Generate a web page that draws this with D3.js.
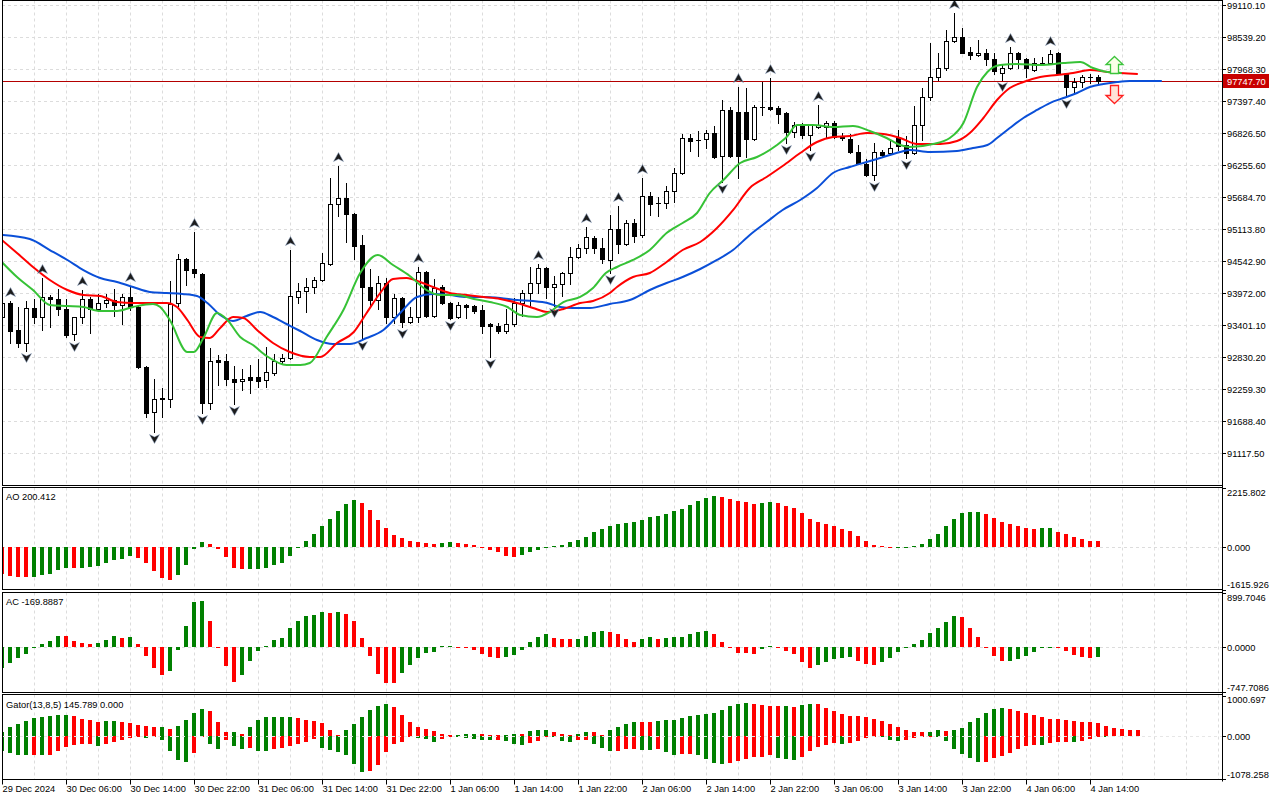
<!DOCTYPE html>
<html>
<head>
<meta charset="utf-8">
<script src="https://cdn.jsdelivr.net/npm/d3@7"></script>
<style>
body { margin: 0; background: #fff; }
svg { display: block; }
text { font-family: "Liberation Sans", Arial, sans-serif; font-size: 9.3px; fill: #000; }
</style>
</head>
<body>
<div id="container"></div>
<script>
// hourly candles, bar 0 = 29 Dec 22:00
const open = [93544,93794,93312,93080,93704,93544,93901,93865,93687,93241,93544,93865,93687,93794,93847,93758,93901,93722,92652,91849,
  92081,92081,93794,94578,94400,94311,92010,92776,92759,92438,92402,92473,92473,92420,92545,92759,92812,93901,94008,94079,
  94204,94489,95560,95667,95381,94828,94079,93847,94150,93544,93883,93455,93544,94347,93562,94079,93794,93544,93758,93740,
  93669,93419,93383,93294,93419,93794,93972,94150,94418,94079,94132,94329,94614,94775,94953,94775,94561,95114,94846,95221,
  95007,95702,95577,95577,95792,96113,96737,96701,96719,96826,96416,97237,97201,97201,96719,97290,97290,97272,97183,96844,
  96969,96791,96933,96933,97005,96773,96719,96487,96273,96077,96487,96469,96737,96612,96469,96969,97468,97825,97986,98468,
  98539,98271,98218,98253,98146,97897,97986,98253,98146,97950,98075,98075,98253,97879,97647,97736,97825,97825];
const high = [93800,93829,93722,93829,93865,94240,93936,94043,93865,93544,94025,93901,93954,93954,94043,93954,94097,93740,92669,92438,
  92277,94186,94668,94596,95060,94329,92991,92866,92883,92669,92616,92687,92794,93008,92883,92883,94739,94150,94240,94257,
  94686,96024,96237,95934,95399,95007,94400,94275,94240,93954,93901,93722,94436,94364,94222,94115,93811,93811,93776,93758,
  93758,93437,93437,93687,93883,94025,94436,94489,94436,94275,94347,94793,94846,95149,94989,94953,95363,95524,95274,95292,
  96024,95774,95685,95881,96202,96808,96808,96862,96880,96951,97415,97290,97647,97629,97326,97736,97807,97308,97201,97022,
  97005,96987,97326,97040,97040,96826,96808,96612,96362,96648,96523,96719,96880,96773,97308,97629,98432,98253,98664,98967,
  98700,98361,98485,98325,98253,98057,98361,98271,98164,98164,98182,98307,98271,97897,97807,97861,97879,97861];
const low = [93455,93080,93008,92937,93437,93312,93366,93580,93187,93133,93437,93259,93651,93722,93562,93419,93669,92634,91760,91492,
  91760,91938,93740,94115,94257,91831,91903,92331,92331,91992,92241,92188,92295,92295,92509,92723,92794,93794,93633,93972,
  94186,94471,95346,94882,94578,93151,93740,93687,93437,93437,93366,93437,93455,93544,93544,93776,93508,93526,93526,93615,
  93259,92830,93259,93259,93383,93562,93722,93972,93883,93740,93918,94132,94596,94686,94686,94507,94329,94686,94828,94882,
  94971,95363,95346,95488,95595,96095,96505,96416,96559,96380,95952,96398,96024,96398,96701,97147,97237,97005,96648,96755,
  96737,96523,96915,96755,96737,96701,96469,96273,96059,95988,96398,96452,96523,96380,96452,96701,97415,97772,97950,98450,
  98250,98146,98200,98039,97879,97772,97968,97986,97825,97932,98039,98070,97879,97468,97540,97647,97718,97700];
const close = [93794,93294,93080,93704,93544,93901,93865,93687,93223,93540,93865,93687,93794,93847,93758,93901,93722,92652,91831,92081,
  92090,93776,94578,94382,94329,92010,92759,92741,92438,92384,92438,92420,92402,92562,92759,92812,93918,94008,94079,94204,
  94507,95560,95667,95381,94810,94079,93847,94150,93544,93883,93455,93544,94347,93562,94061,93794,93526,93758,93722,93651,
  93383,93383,93294,93419,93794,93972,94150,94418,94079,94132,94329,94614,94775,94971,94775,94578,95114,94846,95221,94989,
  95702,95560,95570,95792,96113,96737,96683,96695,96826,96398,97237,96416,96416,96719,97290,97285,97255,97165,96844,96969,
  96791,96969,96969,97005,96755,96737,96487,96291,96077,96487,96434,96559,96594,96469,96969,97468,97825,97986,98468,98539,
  98253,98218,98253,98146,97932,97986,98253,98146,97986,98075,98070,98236,97897,97647,97736,97825,97820,97747.7];

const upFractals = [1,5,10,16,24,36,42,52,67,73,77,80,92,96,102,119,126,131];
const downFractals = [3,9,19,25,29,45,50,56,61,69,76,90,98,101,109,113,125,133];

// Alligator readings [bar, price]
const jaw = [[0,95007],[3.5,94935],[6,94739],[8.2,94561],[10.2,94382],[12.3,94240],[14.4,94168],[16.4,94079],[18.5,93990],[20.6,93972],
  [22.6,93954],[24.4,93918],[25.7,93794],[27.3,93580],[28.9,93473],[30.6,93562],[32.3,93633],[33.9,93544],[35.6,93419],[37.3,93294],
  [39.4,93133],[41.4,93062],[43.5,93062],[45.6,93169],[47.7,93312],[49.8,93615],[51.9,93901],[53.9,93954],[56,93936],[58.1,93901],
  [60.2,93901],[62.3,93883],[64.4,93847],[66.4,93829],[68.2,93794],[69.8,93722],[71.4,93704],[73.5,93704],[76,93776],[78.5,93847],
  [81,94025],[83.1,94150],[85.1,94257],[87.3,94400],[89.4,94561],[91.4,94739],[93.5,95007],[95.6,95238],[97.6,95453],[99.8,95631],
  [101.9,95845],[103.9,96113],[106,96220],[108.1,96309],[110.2,96398],[112.3,96487],[113.5,96523],[116,96487],[119.4,96505],[121.4,96559],
  [123.2,96612],[124.4,96737],[126,96915],[127.7,97094],[129.4,97237],[131,97361],[132.7,97450],[134.4,97540],[136,97647],[137.7,97700],
  [139.4,97736],[141,97754],[145,97754]];
const teeth = [[0,94918],[1.9,94686],[3.9,94436],[6,94204],[8.2,94025],[10.2,93936],[12.3,93918],[14.4,93811],[16.4,93794],[18.5,93794],
  [20.6,93794],[21.9,93722],[23.2,93490],[24.8,93187],[26,93169],[27.3,93348],[28.9,93544],[30.2,93526],[31.9,93312],[33.9,93080],
  [36,92919],[38.5,92830],[39.8,92830],[41.9,93080],[44,93276],[45.6,93615],[47.3,93972],[48.9,94222],[50.6,94240],[52.3,94168],
  [53.9,94079],[56,93972],[58.1,93936],[60.2,93901],[62.3,93865],[64.4,93794],[66.4,93704],[68.2,93633],[70.2,93687],[72.3,93794],
  [73.9,93829],[76,93972],[76.9,94079],[78.9,94257],[81,94329],[83.1,94525],[85.1,94739],[87.3,94882],[89.4,95132],[91.4,95450],
  [93.5,95845],[95.6,96041],[97.6,96237],[99.8,96469],[101.9,96666],[103.9,96755],[106,96773],[108.1,96826],[110.2,96808],[112.3,96737],
  [114.4,96630],[117.3,96630],[119.4,96683],[121,96826],[122.7,97094],[124.4,97415],[126,97629],[127.7,97736],[129.8,97825],[131.9,97861],
  [133.9,97897],[136,97950],[138.2,97915],[142,97879]];
const lips = [[0,94525],[1.9,94257],[3.9,94025],[6,93758],[8.2,93740],[10.2,93722],[12.3,93651],[14.4,93651],[16.4,93722],[18.9,93776],
  [19.8,93722],[21,93490],[23.2,92919],[24,92919],[25.2,93169],[26.9,93615],[28.2,93490],[29.8,93187],[31.4,93044],[33.1,92848],
  [35.6,92687],[37.3,92687],[38.5,92723],[40.6,93187],[42.7,93669],[44.8,94329],[47,94650],[48.9,94471],[51,94275],[53.1,94025],
  [54.8,93936],[56.9,93936],[59,93865],[61,93811],[63.2,93722],[64.8,93580],[66.9,93544],[68.5,93633],[70.2,93811],[72.3,93901],
  [73.9,94061],[75.5,94329],[76.9,94436],[78.9,94561],[81,94739],[83.1,95042],[85.1,95221],[86.9,95399],[88.5,95756],[90.2,95988],
  [92.3,96291],[94.4,96398],[96.9,96612],[98.1,96755],[99.4,96969],[101.4,96969],[103.9,96933],[106.4,96951],[108.5,96862],[110.6,96737],
  [112.3,96612],[113.5,96577],[116.4,96630],[118.5,96737],[120.2,97005],[121.9,97647],[123.2,97915],[124.8,98039],[126.9,98057],[129.8,98039],
  [132.7,98075],[134.8,98093],[136.4,97986],[138.2,97915],[140,97897]];

const ao = [-1014,-1089,-1152,-1158,-1127,-1052,-1014,-864,-801,-805,-795,-764,-714,-601,-488,-451,-338,-413,-601,-901,
  -1164,-1265,-1052,-676,-88,188,113,-100,-376,-789,-839,-835,-830,-789,-676,-601,-338,-50,225,488,
  789,1052,1352,1615,1753,1653,1390,1014,714,451,338,225,188,150,113,150,188,150,113,75,
  -38,-138,-213,-338,-376,-326,-213,-113,-25,38,75,188,263,376,563,676,789,864,901,939,
  1014,1127,1164,1239,1352,1427,1578,1728,1840,1916,1878,1803,1728,1690,1615,1653,1690,1653,1540,1465,
  1277,1052,939,864,789,676,601,413,225,75,13,-63,-38,-13,38,113,300,488,789,1052,
  1277,1315,1320,1239,1089,939,864,789,714,676,714,720,563,488,376,300,225,200.412];
const ac = [-357,-275,-192,-126,5,49,99,185,181,99,66,49,66,115,181,148,165,49,-159,-357,
  -472,-406,-60,346,741,758,428,-5,-324,-587,-472,-242,-77,16,115,148,313,428,511,527,
  576,560,576,544,428,148,-159,-456,-598,-600,-434,-302,-187,-104,-88,10,18,-11,-22,-55,
  -121,-170,-187,-170,-137,-55,82,165,220,154,137,136,138,187,253,264,253,220,137,88,
  137,170,137,154,156,170,220,253,269,220,88,-22,-99,-104,-121,-38,11,-2,-71,-124,
  -258,-357,-307,-258,-209,-192,-176,-242,-291,-307,-258,-192,-93,-5,49,115,231,313,412,511,
  494,313,165,-5,-159,-242,-240,-209,-159,-93,-16,-5,-10,-71,-143,-176,-178,-169.8887];
const gatorUp = [99,215,280,355,429,462,487,503,505,479,421,388,330,355,357,353,322,256,231,206,
  210,157,231,380,569,677,611,330,83,90,40,215,380,454,456,458,460,429,388,355,
  305,132,10,132,280,454,652,750,780,720,520,347,223,173,124,50,2,25,50,52,
  48,10,5,25,50,45,124,149,150,99,50,8,50,99,98,5,149,223,297,347,
  345,343,371,396,398,446,495,520,545,569,644,743,792,817,792,767,743,741,745,718,
  767,792,790,693,619,545,495,493,470,421,371,297,223,149,99,97,100,149,124,150,
  198,347,446,569,668,693,668,619,569,520,470,421,419,396,371,347,345,322,248,198,
  160,152,145.789];
const gatorDown = [-371,-437,-479,-482,-478,-482,-480,-380,-272,-231,-206,-204,-256,-206,-157,-107,-58,-33,-58,-8,
  -107,-380,-602,-652,-429,-33,-206,-330,-107,-256,-330,-305,-380,-382,-330,-305,-256,-206,-157,-83,
  -305,-355,-404,-479,-701,-899,-875,-726,-413,-215,-149,-41,-50,-91,-149,-91,-25,-41,-66,-91,
  -116,-118,-114,-140,-215,-239,-190,-124,-41,-45,-140,-165,-116,-115,-215,-314,-388,-386,-338,-336,
  -363,-365,-338,-413,-487,-462,-460,-489,-586,-685,-710,-685,-635,-586,-536,-535,-487,-561,-586,-610,
  -536,-388,-289,-239,-190,-215,-190,-140,-66,-20,-41,-116,-140,-116,-66,-17,-15,-41,-140,-338,
  -462,-561,-660,-658,-561,-512,-437,-338,-264,-239,-241,-190,-165,-163,-167,-140,-91,-41,-45];

const priceTicks = [99110.10,98539.20,97968.30,97397.40,96826.50,96255.60,95684.70,95113.80,94542.90,93972.00,93401.10,92830.20,92259.30,91688.40,91117.50];
const aoTicks = [2215.802, 0, -1615.926];
const acTicks = [899.7046, 0, -747.7086];
const gatorTicks = [1000.697, 0, -1078.258];
const xTickBars = [0,8,16,24,32,40,48,56,64,72,80,88,96,104,112,120,128,136];
const xTickLabels = ["29 Dec 2024","30 Dec 06:00","30 Dec 14:00","30 Dec 22:00","31 Dec 06:00","31 Dec 14:00","31 Dec 22:00",
  "1 Jan 06:00","1 Jan 14:00","1 Jan 22:00","2 Jan 06:00","2 Jan 14:00","2 Jan 22:00","3 Jan 06:00","3 Jan 14:00",
  "3 Jan 22:00","4 Jan 06:00","4 Jan 14:00"];
const lastPrice = 97747.70;
const signalUp = [139, 97897, 98200];   // bar, base, tip
const signalDown = [139, 97683, 97361];

const width = 1280;
const height = 800;
const plotLeft = 2, plotRight = 1222;
const green = "#008000", red = "#ff0000";

const x = d3.scaleLinear().domain([0, 145]).range([1.8, 1161.8]);
const px = i => Math.round(x(i)) + 0.5;

// panels: frame top/bottom
const panels = {
  main: {top: 0.5, bottom: 485.5},
  ao: {top: 487.5, bottom: 589.5},
  ac: {top: 592.5, bottom: 692.5},
  gator: {top: 694.5, bottom: 779.5}
};
const yMain = d3.scaleLinear().domain([91117.5, 99110.1]).range([453, 5]);
const yAO = d3.scaleLinear().domain([-1615.926, 2215.802]).range([589.5, 488]);
const yAC = d3.scaleLinear().domain([-747.7086, 899.7046]).range([692, 592.5]);
const yGator = d3.scaleLinear().domain([-1078.258, 1000.697]).range([779, 695.5]);

const svg = d3.create("svg")
    .attr("width", width)
    .attr("height", height)
    .attr("viewBox", [0, 0, width, height]);

svg.append("rect").attr("width", width).attr("height", height).attr("fill", "#fff");

const defs = svg.append("defs");
Object.entries(panels).forEach(([k, p]) => {
  defs.append("clipPath").attr("id", "clip-" + k)
    .append("rect").attr("x", plotLeft + 1).attr("y", p.top + 0.5)
    .attr("width", plotRight - plotLeft - 1).attr("height", p.bottom - p.top - 1);
});

// grid
const gridColor = "#dcdcdc";
const vGrid = d3.range(0, 153, 4);
Object.entries(panels).forEach(([k, p]) => {
  svg.append("g").attr("clip-path", `url(#clip-${k})`)
    .selectAll("line").data(vGrid).join("line")
    .attr("x1", d => px(d)).attr("x2", d => px(d))
    .attr("y1", p.top).attr("y2", p.bottom)
    .attr("stroke", gridColor).attr("stroke-dasharray", "3,3");
});
svg.append("g").selectAll("line").data(priceTicks).join("line")
  .attr("x1", plotLeft).attr("x2", plotRight)
  .attr("y1", d => Math.round(yMain(d)) + 0.5).attr("y2", d => Math.round(yMain(d)) + 0.5)
  .attr("stroke", gridColor).attr("stroke-dasharray", "3,3");
[yAO, yAC].forEach(s => {
  svg.append("line").attr("x1", plotLeft).attr("x2", plotRight)
    .attr("y1", Math.round(s(0)) + 0.5).attr("y2", Math.round(s(0)) + 0.5)
    .attr("stroke", gridColor).attr("stroke-dasharray", "3,3");
});

// ---- main panel
const main = svg.append("g").attr("clip-path", "url(#clip-main)");

main.append("line")
  .attr("x1", plotLeft).attr("x2", plotRight)
  .attr("y1", Math.round(yMain(lastPrice)) + 0.5).attr("y2", Math.round(yMain(lastPrice)) + 0.5)
  .attr("stroke", "#b40000");

const candles = d3.range(close.length);
const cg = main.append("g");
cg.selectAll("line.wick").data(candles).join("line")
  .attr("class", "wick")
  .attr("x1", px).attr("x2", px)
  .attr("y1", i => Math.round(yMain(high[i])))
  .attr("y2", i => Math.round(yMain(low[i])) + 1)
  .attr("stroke", "#000");
candles.forEach(i => {
  const yt = Math.round(yMain(Math.max(open[i], close[i])));
  const yb = Math.round(yMain(Math.min(open[i], close[i])));
  const c = px(i);
  if (yb - yt < 1) {
    cg.append("line").attr("x1", c - 2.5).attr("x2", c + 2.5)
      .attr("y1", yt + 0.5).attr("y2", yt + 0.5).attr("stroke", "#000");
  } else {
    cg.append("rect").attr("x", c - 2).attr("y", yt + 0.5)
      .attr("width", 4).attr("height", yb - yt)
      .attr("fill", close[i] >= open[i] ? "#fff" : "#000")
      .attr("stroke", "#000");
  }
});

// alligator
const line = d3.line().x(d => x(d[0])).y(d => yMain(d[1])).curve(d3.curveMonotoneX);
[[jaw, "#0a4fd8"], [teeth, "#ff0000"], [lips, "#36c236"]].forEach(([pts, col]) => {
  main.append("path").attr("d", line(pts))
    .attr("fill", "none").attr("stroke", col).attr("stroke-width", 2);
});

// fractal arrows
const arrowUp = "M0,-4.5L5,4.5L0,2L-5,4.5Z";
const arrowDown = "M0,4.5L5,-4.5L0,-2L-5,-4.5Z";
main.append("g").selectAll("path").data(upFractals).join("path")
  .attr("d", arrowUp)
  .attr("transform", i => `translate(${px(i)},${yMain(high[i]) - 9})`)
  .attr("fill", "#1c1c1c").attr("stroke", "#8aa0c0").attr("stroke-width", 0.5);
main.append("g").selectAll("path").data(downFractals).join("path")
  .attr("d", arrowDown)
  .attr("transform", i => `translate(${px(i)},${yMain(low[i]) + 7})`)
  .attr("fill", "#1c1c1c").attr("stroke", "#8aa0c0").attr("stroke-width", 0.5);

// signal arrows
function blockArrow(cx, yBase, yTip) {
  const dir = yTip < yBase ? 1 : -1;
  const hy = yTip + dir * 8;
  return `M${cx},${yTip}L${cx + 8.5},${hy}L${cx + 4},${hy}L${cx + 4},${yBase}L${cx - 4},${yBase}L${cx - 4},${hy}L${cx - 8.5},${hy}Z`;
}
main.append("path")
  .attr("d", blockArrow(px(signalUp[0]), Math.round(yMain(signalUp[1])) + 0.5, Math.round(yMain(signalUp[2])) + 0.5))
  .attr("fill", "#fbffe8").attr("stroke", "#3cc43c").attr("stroke-width", 1.3);
main.append("path")
  .attr("d", blockArrow(px(signalDown[0]), Math.round(yMain(signalDown[1])) + 0.5, Math.round(yMain(signalDown[2])) + 0.5))
  .attr("fill", "#ffe4d8").attr("stroke", "#ff2020").attr("stroke-width", 1.3);

// ---- histograms
function histo(values, scale, clipId, firstColor) {
  const g = svg.append("g").attr("clip-path", `url(#clip-${clipId})`);
  const z = Math.round(scale(0));
  g.selectAll("rect").data(values.map((v, i) => ({v, i})).filter(d => d.v !== 0)).join("rect")
    .attr("x", d => Math.round(x(d.i)) - 2)
    .attr("width", 4)
    .attr("y", d => d.v > 0 ? Math.min(z - 1, Math.round(scale(d.v))) : z)
    .attr("height", d => Math.max(1, Math.abs(Math.round(scale(d.v)) - z)))
    .attr("fill", d => {
      if (d.i === 0) return firstColor;
      return Math.abs(d.v) > Math.abs(values[d.i - 1]) === (d.v > 0 || scale !== yGator) ? green : red;
    });
  return g;
}
// AO / AC: green when the value rises
function risingColor(values, first) {
  return i => i === 0 ? first : (values[i] > values[i - 1] ? green : red);
}
[[ao, yAO, "ao", red], [ac, yAC, "ac", green]].forEach(([vals, s, id, first]) => {
  const z = Math.round(s(0));
  const col = risingColor(vals, first);
  svg.append("g").attr("clip-path", `url(#clip-${id})`)
    .selectAll("rect").data(d3.range(vals.length)).join("rect")
    .attr("x", i => Math.round(x(i)) - 2).attr("width", 4)
    .attr("y", i => vals[i] >= 0 ? Math.round(s(vals[i])) : z)
    .attr("height", i => Math.max(1, Math.abs(Math.round(s(vals[i])) - z)))
    .attr("fill", col);
});
// Gator: green when the bar grows
{
  const z = Math.round(yGator(0));
  const g = svg.append("g").attr("clip-path", "url(#clip-gator)");
  g.selectAll("rect.up").data(d3.range(gatorUp.length)).join("rect")
    .attr("class", "up")
    .attr("x", i => Math.round(x(i)) - 2).attr("width", 4)
    .attr("y", i => Math.min(z - 1, Math.round(yGator(gatorUp[i]))))
    .attr("height", i => Math.max(1, z - Math.round(yGator(gatorUp[i]))))
    .attr("fill", i => i === 0 || gatorUp[i] > gatorUp[i - 1] ? green : red);
  g.selectAll("rect.down").data(d3.range(gatorDown.length)).join("rect")
    .attr("class", "down")
    .attr("x", i => Math.round(x(i)) - 2).attr("width", 4)
    .attr("y", z)
    .attr("height", i => Math.max(1, Math.round(yGator(gatorDown[i])) - z))
    .attr("fill", i => i === 0 || Math.abs(gatorDown[i]) > Math.abs(gatorDown[i - 1]) ? green : red);
  svg.append("line").attr("x1", plotLeft).attr("x2", plotRight)
    .attr("y1", z + 0.5).attr("y2", z + 0.5)
    .attr("stroke", "#e6e6e6").attr("stroke-dasharray", "3,3");
}

// ---- frames
Object.values(panels).forEach(p => {
  svg.append("rect").attr("x", plotLeft + 0.5).attr("y", p.top)
    .attr("width", plotRight - plotLeft).attr("height", p.bottom - p.top)
    .attr("fill", "none").attr("stroke", "#000");
});

// ---- price axis
const axisG = svg.append("g");
priceTicks.forEach(v => {
  const y = Math.round(yMain(v)) + 0.5;
  axisG.append("line").attr("x1", plotRight).attr("x2", plotRight + 4).attr("y1", y).attr("y2", y).attr("stroke", "#000");
  axisG.append("text").attr("x", plotRight + 5).attr("y", y + 3.3).text(v.toFixed(2));
});
[[aoTicks, yAO, panels.ao, 3], [acTicks, yAC, panels.ac, 4], [gatorTicks, yGator, panels.gator, 3]].forEach(([ticks, s, p, dec]) => {
  ticks.forEach((v, k) => {
    let y = Math.round(s(v)) + 0.5;
    axisG.append("line").attr("x1", plotRight).attr("x2", plotRight + 4).attr("y1", y).attr("y2", y).attr("stroke", "#000");
    let ty = y;
    if (k === 0) ty = p.top + 5.5;
    if (k === ticks.length - 1) ty = p.bottom - 5;
    axisG.append("text").attr("x", plotRight + 5).attr("y", ty + 3.3).text(v.toFixed(dec));
  });
});
// last price tag
{
  const y = yMain(lastPrice);
  axisG.append("rect").attr("x", plotRight + 1).attr("y", Math.round(y) - 7)
    .attr("width", 46).attr("height", 14).attr("fill", "#c80000");
  axisG.append("text").attr("x", plotRight + 5).attr("y", Math.round(y) + 3.8)
    .style("fill", "#fff").text(lastPrice.toFixed(2));
}

// ---- time axis
xTickBars.forEach((b, k) => {
  const xx = px(b);
  axisG.append("line").attr("x1", xx).attr("x2", xx)
    .attr("y1", panels.gator.bottom).attr("y2", panels.gator.bottom + 5).attr("stroke", "#000");
  axisG.append("text").attr("x", xx).attr("y", 792).text(xTickLabels[k]);
});
axisG.append("line").attr("x1", plotRight + 0.5).attr("x2", plotRight + 0.5)
  .attr("y1", 0).attr("y2", panels.gator.bottom + 2).attr("stroke", "#000");

// ---- panel titles
svg.append("text").attr("x", 6).attr("y", 500).text("AO " + ao[ao.length - 1].toFixed(3));
svg.append("text").attr("x", 6).attr("y", 604.5).text("AC " + ac[ac.length - 1].toFixed(4));
svg.append("text").attr("x", 6).attr("y", 708)
  .text("Gator(13,8,5) " + gatorUp[gatorUp.length - 1].toFixed(3) + " 0.000");

d3.select("#container").append(() => svg.node());
</script>
</body>
</html>
